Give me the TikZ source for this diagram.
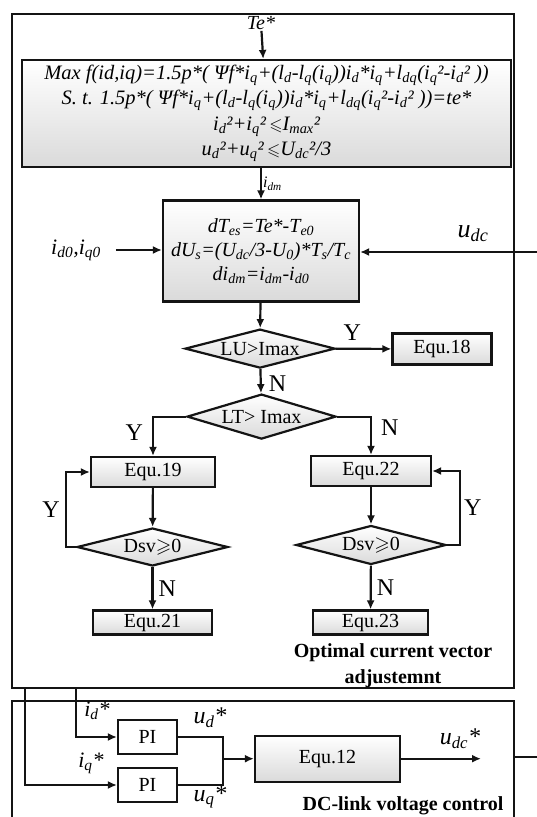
\documentclass[tikz,border=0pt]{standalone}
\usepackage{amsmath,amssymb}
\usepackage{fontspec}
\setmainfont{Liberation Serif}
\usepackage{xcolor}
\usepackage{tikz}
\usetikzlibrary{arrows.meta,calc,shapes.geometric}
\definecolor{figline}{RGB}{20,20,20}
\definecolor{figshade}{RGB}{218,218,218}
\newcommand{\sbs}[1]{\textsubscript{#1}}
\newcommand{\leqs}{{\fontsize{17}{17}\selectfont$\leqslant$}}
\newcommand{\eqfont}{\fontsize{20}{24}\selectfont\itshape}
\tikzset{
  ln/.style   ={draw=figline, line width=2.2pt},
  arr/.style  ={ln, -{Latex[length=9pt,width=8pt]}},
  blk/.style  ={ln, top color=white, bottom color=figshade, inner sep=2pt},
  piblk/.style={ln, fill=white, minimum width=59pt, minimum height=34pt, font=\fontsize{20}{20}\selectfont},
  dia/.style  ={blk, shape=diamond, shape aspect=3.8, inner sep=0pt, font=\fontsize{20}{20}\selectfont},
  eqblk/.style={blk, font=\fontsize{20}{20}\selectfont},
  yn/.style   ={font=\fontsize{24}{24}\selectfont, inner sep=1pt},
  sig/.style  ={font=\fontsize{22}{22}\selectfont\itshape, inner sep=1pt},
  ttl/.style  ={font=\fontsize{20}{26}\selectfont\bfseries, align=center, inner sep=1pt},
}

\begin{document}
\begin{tikzpicture}[x=1pt,y=-1pt]
  \useasboundingbox (0,0) rectangle (537,817);
  \clip (0,0) rectangle (537,817);
  % outer frames
  \draw[ln] (12,14) rectangle (514,688);
  \draw[ln] (12,830) -- (12,701) -- (514,701) -- (514,830);
  % optimisation and increments
  \node[sig,font=\fontsize{20}{20}\selectfont\itshape] (te) at (261,23) {Te*};
  \node[blk,minimum width=489pt,minimum height=107pt,font=\fontsize{20.5}{24.5}\selectfont\itshape,align=center] (opt) at (266.5,113.5)
    {Max f(id,iq)=1.5p*( Ψf*i\sbs{q}+(l\sbs{d}-l\sbs{q}(i\sbs{q}))i\sbs{d}*i\sbs{q}+l\sbs{dq}(i\sbs{q}²-i\sbs{d}² ))\\
     S. t. 1.5p*( Ψf*i\sbs{q}+(l\sbs{d}-l\sbs{q}(i\sbs{q}))i\sbs{d}*i\sbs{q}+l\sbs{dq}(i\sbs{q}²-i\sbs{d}² ))=te*\\[2pt]
     i\sbs{d}²+i\sbs{q}²\,\leqs I\sbs{max}²\\
     u\sbs{d}²+u\sbs{q}²\,\leqs U\sbs{dc}²/3};
  \node[blk,minimum width=196pt,minimum height=101pt,font=\eqfont,align=center] (inc) at (261,251)
    {dT\sbs{es}=Te*-T\sbs{e0}\\
     dU\sbs{s}=(U\sbs{dc}/3-U\sbs{0})*T\sbs{s}/T\sbs{c}\\
     di\sbs{dm}=i\sbs{dm}-i\sbs{d0}};
  \node[sig] (idq) at (76,250) {i\sbs{d0},i\sbs{q0}};
  \node[sig,font=\fontsize{26}{26}\selectfont\itshape] (udc) at (473,234) {u\sbs{dc}};
  \coordinate (udcin) at (537,252);
  % decisions
  \node[dia,minimum width=150pt,minimum height=39pt] (lu) at (260,348.6) {LU>Imax};
  \node[eqblk,minimum width=99pt,minimum height=31pt] (e18) at (442,349) {Equ.18};
  \node[dia,minimum width=149pt,minimum height=45pt] (lt) at (261.5,416.6) {LT> Imax};
  \node[eqblk,minimum width=124pt,minimum height=30pt] (e19) at (153,472) {Equ.19};
  \node[eqblk,minimum width=120pt,minimum height=30pt] (e22) at (371,471) {Equ.22};
  \node[dia,minimum width=151pt,minimum height=38pt] (dl) at (152.5,547) {Dsv$\geqslant$0};
  \node[dia,minimum width=150pt,minimum height=39pt] (dr) at (371,545) {Dsv$\geqslant$0};
  \node[eqblk,minimum width=119pt,minimum height=24pt] (e21) at (152.5,622.5) {Equ.21};
  \node[eqblk,minimum width=115pt,minimum height=24pt] (e23) at (370.5,622.5) {Equ.23};
  \node[ttl] (optl) at (393,666) {Optimal current vector\\adjustemnt};
  % dc-link block
  \coordinate (idtap) at (76,688);
  \coordinate (iqtap) at (25,688);
  \node[piblk] (pi1) at (147.5,737) {PI};
  \node[piblk] (pi2) at (147.5,785) {PI};
  \coordinate (sum) at (223,758.7);
  \node[eqblk,minimum width=145pt,minimum height=46pt] (e12) at (327.5,758.7) {Equ.12};
  \coordinate (udcref) at (481,758.7);
  \coordinate (udcout) at (537,757);
  \node[ttl] (dcl) at (403,806) {DC-link voltage control};
  \node[sig] (idl) at (97,711) {i\sbs{d}*};
  \node[sig] (iql) at (91,763) {i\sbs{q}*};
  \node[sig,font=\fontsize{24}{24}\selectfont\itshape] (udl) at (210,718) {u\sbs{d}*};
  \node[sig,font=\fontsize{24}{24}\selectfont\itshape] (uql) at (210,797) {u\sbs{q}*};
  \node[sig,font=\fontsize{24}{24}\selectfont\itshape] (udcl) at (460,739) {u\sbs{dc}*};
  % connectors
  \draw[arr] (te) -- (opt);
  \draw[arr] (opt.south -| inc.north) -- node[right,sig,font=\fontsize{16}{16}\selectfont\itshape] {i\sbs{dm}} (inc.north);
  \draw[arr] ([xshift=14pt]idq.east) -- (inc.west |- idq.east);
  \draw[arr] (udcin) -- (inc.east |- udcin);
  \draw[arr] (inc) -- (lu);
  \draw[arr] (lu) -- node[above,yn,pos=0.3,yshift=6pt] {Y} (e18);
  \draw[arr] (lu) -- node[right,yn,pos=0.6,xshift=6pt] {N} (lt);
  \draw[arr] (lt.west) -| node[left,yn,pos=0.7,xshift=-8pt] {Y} (e19.north);
  \draw[arr] (lt.east) -| node[right,yn,pos=0.65,xshift=8pt] {N} (e22.north);
  \draw[arr] (e19) -- (dl);
  \draw[arr] (e22) -- (dr);
  \draw[arr] (dl.west) -- ++(-10,0) |- node[left,yn,pos=0.25,xshift=-4pt] {Y} (e19.west);
  \draw[arr] (dr.east) -- ++(13,0) |- node[right,yn,pos=0.25,xshift=2pt] {Y} (e22.east);
  \draw[arr] (dl) -- node[right,yn,xshift=4pt] {N} (e21);
  \draw[arr] (dr) -- node[right,yn,xshift=4pt] {N} (e23);
  \draw[arr] (idtap) |- (pi1.west);
  \draw[arr] (iqtap) |- (pi2.west);
  \draw[ln] (pi1.east) -| (sum);
  \draw[ln] (pi2.east) -| (sum);
  \draw[arr] (sum) -- (e12.west);
  \draw[arr] (e12.east) -- (udcref);
  \draw[ln] (514,757) -- (udcout);
\end{tikzpicture}
\end{document}
